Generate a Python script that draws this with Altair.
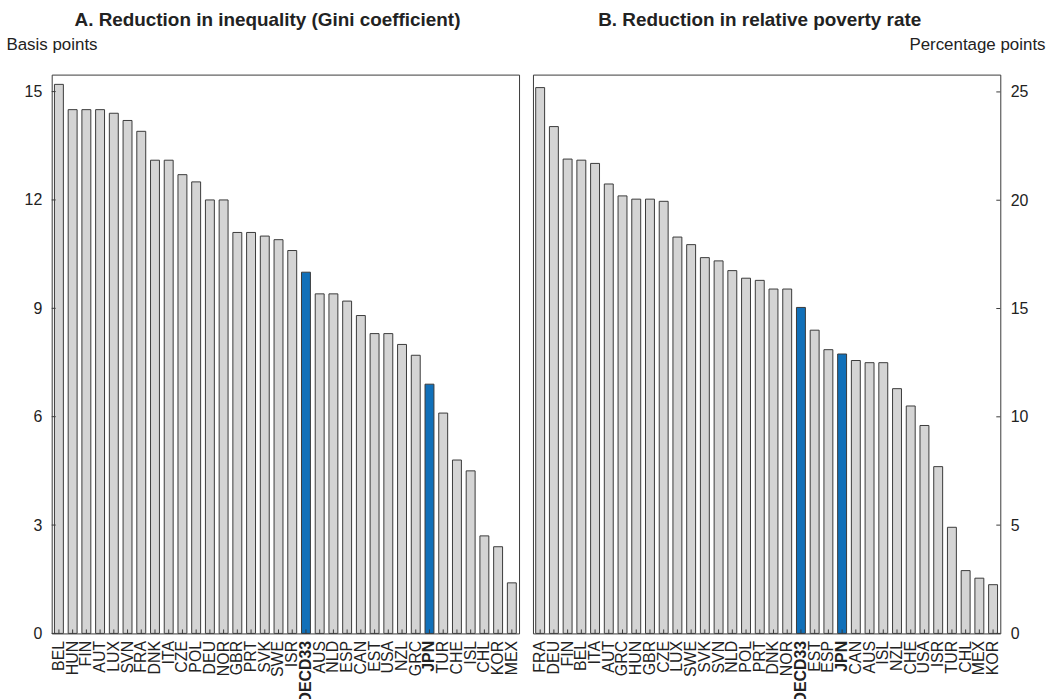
import altair as alt
import pandas as pd

# ---- data ----
countries_a = ["BEL", "HUN", "FIN", "AUT", "LUX", "SVN", "FRA", "DNK", "ITA", "CZE", "POL",
               "DEU", "NOR", "GBR", "PRT", "SVK", "SWE", "ISR", "OECD33", "AUS", "NLD", "ESP",
               "CAN", "EST", "USA", "NZL", "GRC", "JPN", "TUR", "CHE", "ISL", "CHL", "KOR", "MEX"]
values_a = [15.2, 14.5, 14.5, 14.5, 14.4, 14.2, 13.9, 13.1, 13.1, 12.7, 12.5,
            12.0, 12.0, 11.1, 11.1, 11.0, 10.9, 10.6, 10.0, 9.4, 9.4, 9.2,
            8.8, 8.3, 8.3, 8.0, 7.7, 6.9, 6.1, 4.8, 4.5, 2.7, 2.4, 1.4]

countries_b = ["FRA", "DEU", "FIN", "BEL", "ITA", "AUT", "GRC", "HUN", "GBR", "CZE", "LUX",
               "SWE", "SVK", "SVN", "NLD", "POL", "PRT", "DNK", "NOR", "OECD33", "EST", "ESP",
               "JPN", "CAN", "AUS", "ISL", "NZL", "CHE", "USA", "ISR", "TUR", "CHL", "MEX", "KOR"]
values_b = [25.2, 23.4, 21.9, 21.85, 21.7, 20.75, 20.2, 20.05, 20.05, 19.95, 18.3,
            17.95, 17.35, 17.2, 16.75, 16.4, 16.3, 15.9, 15.9, 15.05, 14.0, 13.1,
            12.9, 12.6, 12.5, 12.5, 11.3, 10.5, 9.6, 7.7, 4.9, 2.9, 2.55, 2.25]

highlight = ["OECD33", "JPN"]
yticks_a = [0, 3, 6, 9, 12, 15]
yticks_b = [0, 5, 10, 15, 20, 25]

title_a = "A. Reduction in inequality (Gini coefficient)"
title_b = "B. Reduction in relative poverty rate"
ytitle_a = "Basis points"
ytitle_b = "Percentage points"

GREY = "#d4d4d4"
BLUE = "#1170b9"
STROKE = "#3a3a3a"
TEXT = "#222222"
W, H = 470, 562
FONT = "Liberation Sans"

bold_test = " || ".join([f"datum.value == '{c}'" for c in highlight])


def panel(countries, values, yticks, ymax, title, ytitle, orient, dx):
    df = pd.DataFrame({"country": countries, "value": values,
                       "hl": [c in highlight for c in countries]})
    tdf = pd.DataFrame({"value": yticks})
    xscale = alt.Scale(paddingInner=0.35, paddingOuter=0.2)
    yscale = alt.Scale(domain=[0, ymax], nice=False, zero=True)
    if orient == "left":
        tx, talign = -46, "left"
    else:
        tx, talign = 45, "right"
    yaxis = alt.Axis(title=ytitle, orient=orient, values=yticks, ticks=False, domain=False,
                     grid=False, labelPadding=10, labelFontSize=16, labelColor=TEXT,
                     titleAngle=0, titleX=tx, titleY=-30, titleAlign=talign,
                     titleBaseline="middle", titleFontSize=17, titleFontWeight="normal",
                     titleColor=TEXT, labelFont=FONT, titleFont=FONT)
    xaxis = alt.Axis(title=None, labelAngle=-90, ticks=False, domain=False, grid=False,
                     labelPadding=7, labelFontSize=16, labelColor=TEXT, labelFont=FONT,
                     labelFontWeight=alt.condition(bold_test, alt.value("bold"), alt.value("normal")))

    bars = alt.Chart(df).mark_bar(stroke=STROKE, strokeWidth=1).encode(
        x=alt.X("country:N", sort=countries, scale=xscale, axis=xaxis),
        y=alt.Y("value:Q", scale=yscale, axis=yaxis),
        fill=alt.condition("datum.hl", alt.value(BLUE), alt.value(GREY)),
    )
    xt = alt.Chart(df).mark_rule(color=STROKE, strokeWidth=1).encode(
        x=alt.X("country:N", sort=countries, scale=xscale, axis=xaxis),
        y=alt.value(H),
        y2=alt.value(H - 4),
    )
    if orient == "left":
        x0, x1 = 0, 4
    else:
        x0, x1 = W, W - 4
    yt = alt.Chart(tdf).mark_rule(color=STROKE, strokeWidth=1).encode(
        y=alt.Y("value:Q", scale=yscale, axis=yaxis),
        x=alt.value(x0),
        x2=alt.value(x1),
    )
    return alt.layer(bars, xt, yt).properties(
        width=W, height=H,
        title=alt.TitleParams(title, anchor="middle", fontSize=19, fontWeight="bold",
                              color=TEXT, font=FONT, dx=dx, offset=6),
    )


pa = panel(countries_a, values_a, yticks_a, 15.47, title_a, ytitle_a, "left", -18)
pb = panel(countries_b, values_b, yticks_b, 25.8, title_b, ytitle_b, "right", -7)

chart = alt.hconcat(pa, pb, spacing=11).resolve_scale(
    y="independent", x="independent"
).configure(
    font=FONT, background="white",
    padding={"left": 5, "top": 8, "right": 5, "bottom": 5},
    view=alt.ViewConfig(stroke=STROKE, strokeWidth=1),
)

chart.save("out.html", embed_options={"renderer": "svg", "actions": False})
